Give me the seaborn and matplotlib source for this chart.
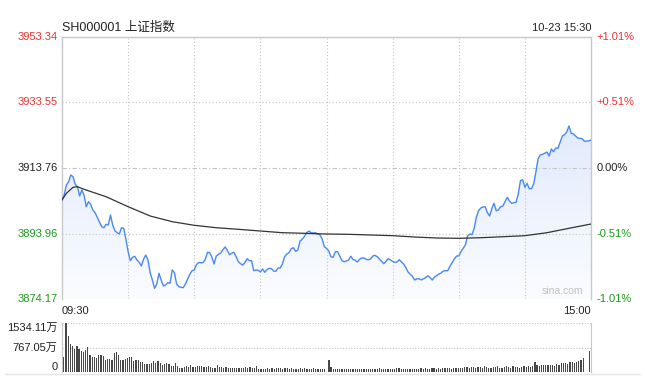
import numpy as np
import pandas as pd
import matplotlib
matplotlib.use("Agg")
import matplotlib.pyplot as plt
import seaborn as sns
from matplotlib.colors import LinearSegmentedColormap
from matplotlib.lines import Line2D

# --- data (one value per minute, 09:30 .. 15:00) ---
price = [
    3904.08, 3905.60, 3908.62, 3909.61, 3911.64, 3911.13, 3908.83, 3908.10, 3905.29, 3907.11,
    3905.60, 3902.06, 3903.57, 3902.79, 3901.06, 3900.25, 3898.86, 3897.44, 3896.02, 3895.71,
    3896.74, 3896.53, 3899.55, 3896.53, 3894.81, 3894.20, 3893.81, 3895.71, 3895.53, 3892.21,
    3888.46, 3885.74, 3886.77, 3887.07, 3885.95, 3885.26, 3884.14, 3886.17, 3887.46, 3885.95,
    3882.12, 3879.91, 3877.40, 3878.70, 3881.93, 3879.91, 3878.10, 3878.40, 3879.09, 3878.91,
    3882.93, 3882.12, 3878.70, 3877.89, 3877.70, 3877.58, 3878.70, 3880.21, 3881.63, 3882.72,
    3882.93, 3884.59, 3885.20, 3885.14, 3885.14, 3886.17, 3888.28, 3888.16, 3886.77, 3884.75,
    3887.16, 3887.68, 3888.07, 3889.07, 3889.88, 3888.88, 3887.56, 3887.98, 3888.28, 3886.95,
    3885.44, 3884.84, 3884.44, 3885.14, 3886.35, 3885.74, 3885.74, 3882.72, 3882.93, 3882.84,
    3882.33, 3883.23, 3882.24, 3883.02, 3883.45, 3883.33, 3882.63, 3882.54, 3883.54, 3883.54,
    3884.75, 3886.95, 3887.77, 3888.16, 3889.37, 3889.67, 3888.58, 3888.98, 3891.70, 3892.21,
    3893.12, 3894.20, 3894.72, 3894.20, 3894.11, 3894.20, 3893.81, 3893.60, 3892.39, 3889.97,
    3889.49, 3888.67, 3886.95, 3886.77, 3888.46, 3888.46, 3887.16, 3885.74, 3885.44, 3885.65,
    3885.95, 3887.07, 3886.17, 3885.86, 3885.35, 3886.17, 3886.56, 3886.56, 3886.17, 3886.04,
    3886.26, 3887.16, 3887.37, 3886.95, 3886.26, 3885.56, 3884.84, 3885.56, 3886.35, 3885.95,
    3885.56, 3885.26, 3885.35, 3886.04, 3885.35, 3884.75, 3883.63, 3882.33, 3881.63, 3881.03,
    3879.91, 3880.30, 3880.30, 3879.91, 3880.30, 3880.61, 3881.21, 3880.61, 3879.91, 3880.82,
    3881.21, 3881.72, 3882.03, 3882.63, 3882.72, 3882.72, 3884.05, 3885.14, 3886.26, 3887.16,
    3887.16, 3888.46, 3889.49, 3890.49, 3893.21, 3893.81, 3893.60, 3895.53, 3898.86, 3900.85,
    3901.67, 3901.97, 3902.06, 3900.25, 3899.25, 3901.46, 3903.09, 3900.85, 3901.06, 3902.06,
    3902.27, 3903.57, 3904.90, 3903.78, 3903.09, 3903.27, 3903.39, 3905.90, 3909.92, 3910.22,
    3907.92, 3909.13, 3907.50, 3907.50, 3908.92, 3912.55, 3916.56, 3917.68, 3917.89, 3918.20,
    3918.59, 3917.38, 3919.50, 3918.68, 3919.80, 3919.71, 3921.61, 3923.42, 3923.82, 3924.63,
    3926.45, 3924.24, 3924.03, 3923.42, 3922.82, 3922.73, 3922.61, 3921.82, 3921.91, 3921.91, 3922.22,
]

# volume in 万
volume = [
    484, 1534, 1122, 875, 813, 721, 813, 721, 659, 628,
    690, 793, 535, 484, 484, 453, 535, 535, 515, 381,
    412, 412, 381, 587, 628, 535, 381, 381, 412, 453,
    474, 474, 350, 381, 381, 319, 319, 257, 257, 257,
    299, 350, 299, 350, 299, 227, 257, 288, 257, 206,
    196, 288, 185, 144, 144, 175, 196, 175, 227, 165,
    165, 196, 196, 196, 165, 165, 185, 154, 134, 134,
    227, 165, 165, 144, 165, 134, 134, 144, 144, 144,
    124, 144, 134, 154, 134, 165, 134, 144, 196, 113,
    113, 113, 113, 134, 113, 144, 113, 144, 144, 124,
    113, 134, 144, 113, 124, 113, 113, 113, 124, 113,
    134, 113, 113, 113, 124, 113, 113, 103, 103, 103,
    21, 381, 165, 103, 103, 103, 113, 103, 103, 113,
    103, 103, 113, 103, 103, 93, 103, 113, 103, 103,
    113, 103, 103, 113, 124, 103, 103, 113, 103, 103,
    113, 103, 144, 124, 103, 103, 113, 93, 103, 103,
    113, 103, 113, 124, 103, 124, 113, 103, 124, 134,
    113, 124, 113, 134, 144, 124, 134, 113, 144, 124,
    134, 144, 134, 175, 165, 144, 165, 175, 124, 154,
    165, 144, 196, 175, 144, 124, 165, 165, 206, 144,
    134, 165, 185, 165, 144, 196, 165, 175, 144, 165,
    185, 165, 196, 175, 206, 329, 216, 206, 216, 216,
    227, 216, 216, 216, 206, 257, 216, 278, 288, 299,
    247, 309, 329, 299, 319, 350, 381, 432, 2, 0, 669,
]

avg_minutes = [0, 2, 5, 7, 10, 20, 30, 40, 50, 60, 70, 80, 90, 100, 110, 120,
               130, 140, 150, 160, 170, 180, 190, 200, 210, 220, 230, 240]
avg_price = [3904.08, 3906.11, 3907.92, 3908.10, 3907.32, 3905.08, 3902.06, 3899.25,
             3897.53, 3896.44, 3895.71, 3895.23, 3894.72, 3894.20, 3894.02, 3893.81,
             3893.72, 3893.51, 3893.30, 3892.90, 3892.60, 3892.51, 3892.69, 3892.99,
             3893.30, 3894.20, 3895.53, 3896.83]

price_levels = [3953.34, 3933.55, 3913.76, 3893.96, 3874.17]
pct_labels = ["+1.01%", "+0.51%", "0.00%", "-0.51%", "-1.01%"]
level_colors = ["#f03030", "#f03030", "#222222", "#1a9a1a", "#1a9a1a"]
vol_levels = [1534.11, 767.05, 0]
vol_labels = ["1534.11万", "767.05万", "0"]
grid_minutes = [30, 60, 90, 120, 150, 180, 210]

df = pd.DataFrame({"minute": np.arange(len(price)), "price": price, "volume": volume})

sns.set_style("white")
plt.rcParams["font.family"] = ["Liberation Sans", "Noto Sans CJK SC", "DejaVu Sans"]

W, H = 645, 379
fig = plt.figure(figsize=(W / 100, H / 100), dpi=100)
ax = fig.add_axes([62 / W, 1 - 299 / H, 529 / W, 262 / H])
axv = fig.add_axes([62 / W, 1 - 372.3 / H, 529 / W, 49.6 / H])

lo, hi = price_levels[-1], price_levels[0]
last = df["minute"].iloc[-1]

# gradient area under the price line
poly = ax.fill_between(df["minute"], df["price"], lo, facecolor="none", edgecolor="none")
cmap = LinearSegmentedColormap.from_list("fade", ["#fbfcff", "#d4e2fa"])
img = ax.imshow(np.linspace(0, 1, 256).reshape(-1, 1), extent=[0, last, lo, hi],
                origin="lower", aspect="auto", cmap=cmap, zorder=1)
img.set_clip_path(poly.get_paths()[0], transform=ax.transData)

sns.lineplot(data=df, x="minute", y="price", ax=ax, color="#4a88f2", lw=1.0, zorder=4)
sns.lineplot(x=avg_minutes, y=avg_price, ax=ax, color="#333333", lw=0.9, zorder=4)

ax.set_xlim(0, last)
ax.set_ylim(lo, hi)
for m in grid_minutes:
    ax.axvline(m, color="#c4c4c4", ls=(0, (1, 2)), lw=0.8, zorder=2)
for lv in price_levels[1:]:
    style = (0, (4, 2, 1, 2)) if lv == price_levels[2] else (0, (1, 2))
    ax.axhline(lv, color="#c4c4c4", ls=style, lw=0.8, zorder=2)
ax.set_xticks([])
ax.set_yticks([])
ax.set_xlabel("")
ax.set_ylabel("")
for s in ["left", "right", "top"]:
    ax.spines[s].set_color("#c8c8c8")
    ax.spines[s].set_linewidth(1)
ax.spines["bottom"].set_visible(False)

ytr = ax.get_yaxis_transform()
for lv, lab, pl, c in zip(price_levels, [f"{v:.2f}" for v in price_levels], pct_labels, level_colors):
    ax.text(-0.008, lv, lab, transform=ytr, ha="right", va="center", fontsize=8, color=c)
    ax.text(1.011, lv, pl, transform=ytr, ha="left", va="center", fontsize=8, color=c)

ax.text(0, 1.012, "SH000001 上证指数", transform=ax.transAxes, ha="left", va="bottom",
        fontsize=9, color="#222222")
ax.text(1, 1.015, "10-23 15:30", transform=ax.transAxes, ha="right", va="bottom",
        fontsize=8, color="#222222")
ax.text(0, -0.025, "09:30", transform=ax.transAxes, ha="left", va="top", fontsize=8, color="#222222")
ax.text(1, -0.025, "15:00", transform=ax.transAxes, ha="right", va="top", fontsize=8, color="#222222")
ax.text(0.985, 0.012, "sina.com", transform=ax.transAxes, ha="right", va="bottom",
        fontsize=7.5, color="#c0c0c0")

# volume panel
sns.barplot(data=df, x="minute", y="volume", ax=axv, native_scale=True, color="#484848",
            saturation=1, width=0.55, linewidth=0)
axv.set_xlim(-0.8, last + 0.6)
axv.set_ylim(0, vol_levels[0])
for lv in vol_levels[:2]:
    axv.axhline(lv, color="#c4c4c4", ls=(0, (1, 1.5)), lw=0.8, zorder=0.5)
axv.set_xticks([])
axv.set_yticks([])
axv.set_xlabel("")
axv.set_ylabel("")
axv.spines["top"].set_visible(False)
axv.spines["bottom"].set_visible(False)
for s in ["left", "right"]:
    axv.spines[s].set_color("#c8c8c8")
vtr = axv.get_yaxis_transform()
for lv, lab, va in zip(vol_levels, vol_labels, ["top", "center", "bottom"]):
    axv.text(-0.008, lv, lab, transform=vtr, ha="right", va=va, fontsize=8, color="#222222")

fig.add_artist(Line2D([5 / W, 640 / W], [1 - 373.5 / H] * 2, color="#e4e4e4", lw=1))

fig.savefig("out.png", dpi=100, facecolor="white")
